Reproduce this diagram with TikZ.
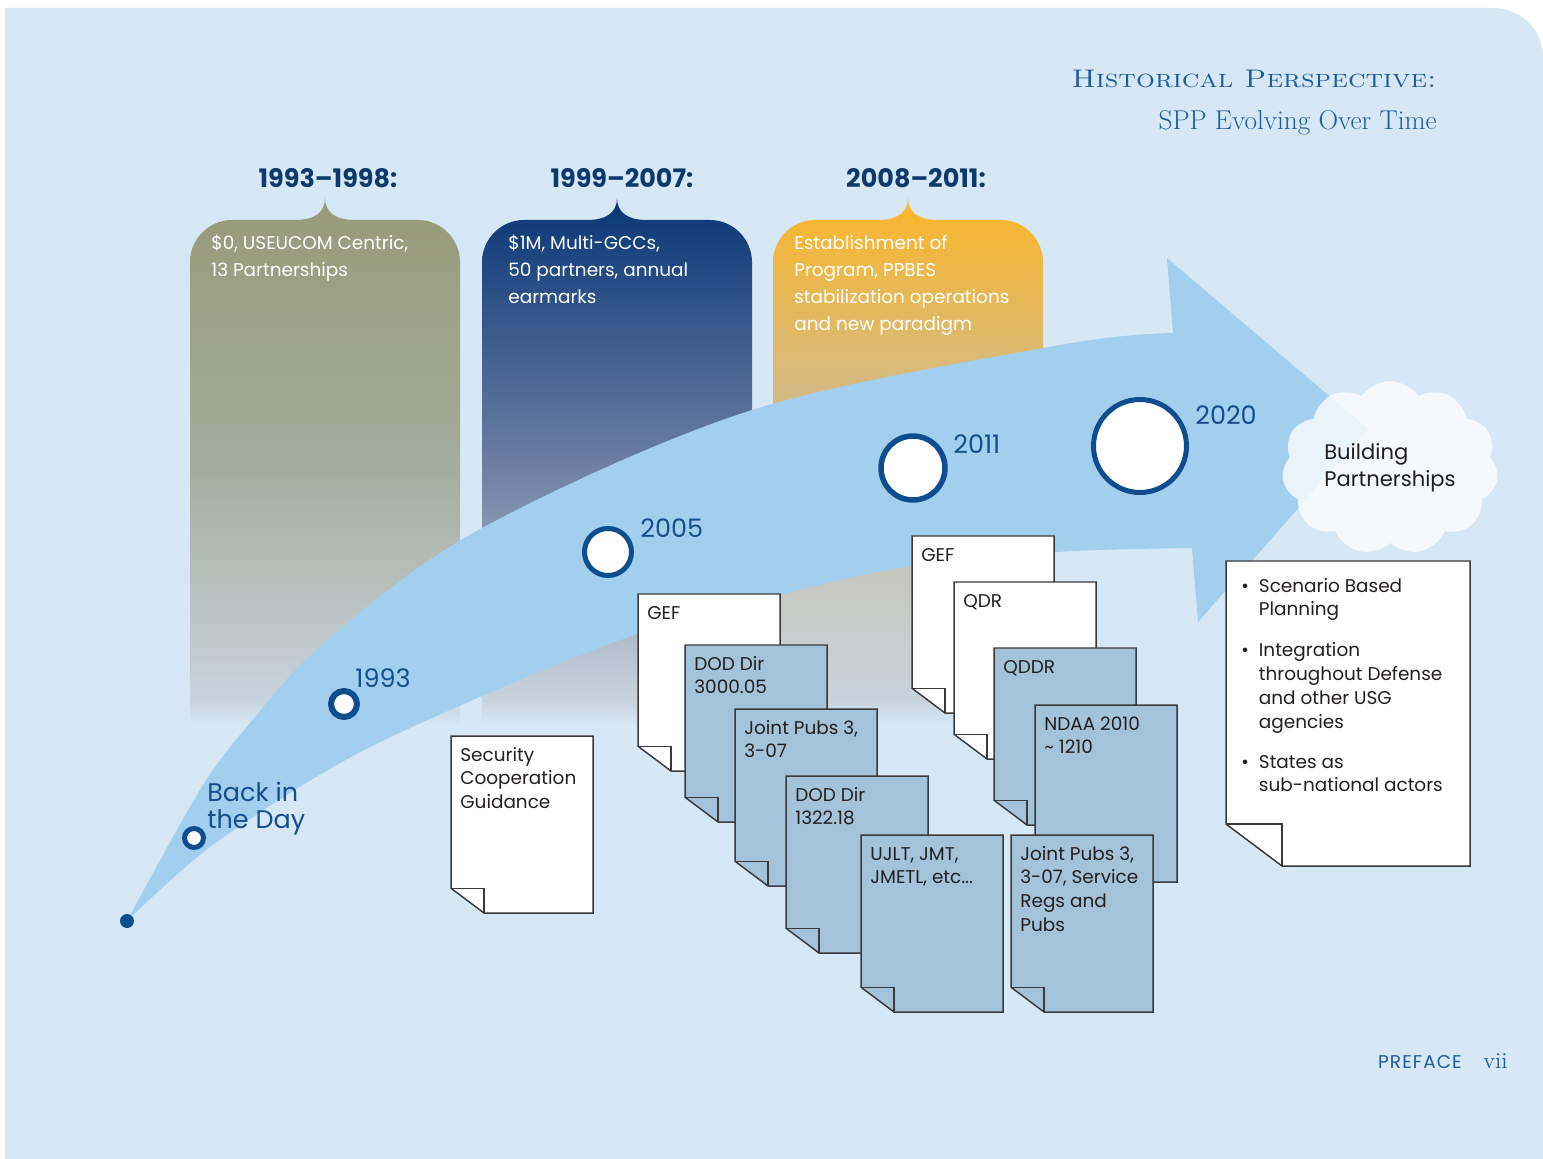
\documentclass[tikz,border=0pt]{standalone}
\usepackage{graphicx}
\usepackage{fontspec}
\setsansfont{Poppins}
\usetikzlibrary{calc}
\usetikzlibrary{positioning}
\usetikzlibrary{shapes.symbols}

\definecolor{bgblue}{HTML}{D6E8F6}
\definecolor{arrowblue}{HTML}{A3CFEE}
\definecolor{ringnavy}{HTML}{0E4D8E}
\definecolor{headnavy}{HTML}{0D3A6A}
\definecolor{yearnavy}{HTML}{144E8C}
\definecolor{docblue}{HTML}{A2C3DA}
\definecolor{docline}{HTML}{3A3A3C}
\definecolor{ink}{HTML}{231F20}
\definecolor{olive}{HTML}{979B78}
\definecolor{olivemid}{HTML}{A5AB9B}
\definecolor{deepblue}{HTML}{093676}
\definecolor{deepmid}{HTML}{6B7EA2}
\definecolor{amber}{HTML}{FBB62A}
\definecolor{ambermid}{HTML}{C6BCA2}
\definecolor{fadegray}{HTML}{C8D3DC}
\definecolor{titleblue}{HTML}{1F5C9E}

% panel fades: the path spans 25bp (bottom) to 75bp (top)
\pgfdeclareverticalshading{olivefade}{100bp}{color(0bp)=(bgblue); color(25bp)=(bgblue); color(27.5bp)=(fadegray); color(50bp)=(olivemid); color(75bp)=(olive); color(100bp)=(olive)}
\pgfdeclareverticalshading{navyfade}{100bp}{color(0bp)=(bgblue); color(25bp)=(bgblue); color(27.5bp)=(fadegray); color(50bp)=(deepmid); color(75bp)=(deepblue); color(100bp)=(deepblue)}
\pgfdeclareverticalshading{amberfade}{100bp}{color(0bp)=(bgblue); color(25bp)=(bgblue); color(27.5bp)=(fadegray); color(50bp)=(ambermid); color(75bp)=(amber); color(100bp)=(amber)}

\tikzset{
	x=0.02cm, y=-0.02cm,
	heading/.style={font=\sffamily\bfseries\fontsize{14.5}{17}\selectfont, text=headnavy, anchor=base, inner sep=0pt},
	bubbletext/.style={font=\sffamily\fontsize{10.5}{15.3}\selectfont, text=white, anchor=base west, inner sep=0pt},
	yearlabel/.style={font=\sffamily\fontsize{14.5}{15.4}\selectfont, text=yearnavy, anchor=base west, inner sep=0pt},
	ring/.style={circle, draw=ringnavy, fill=white, line width=0.1cm, inner sep=0pt, minimum size=#1},
	doctext/.style={font=\sffamily\fontsize{10.5}{13.6}\selectfont, text=ink, anchor=base west, inner sep=0pt},
	paper/.style={draw=docline, line width=0.85pt, line join=miter},
	footer/.style={inner sep=0pt, text=titleblue},
}

% lines stacked from the baseline of the first one
\newcommand{\lines}[1]{\begin{tabular}[t]{@{}l@{}}#1\end{tabular}}

% sheet with a folded lower left corner: name, x, y, width, height, fold, fill, text offset, text
\newcommand{\papersheet}[9]{%
	\draw[paper, fill=#7] (#2,#3) -- ++(#4,0) -- ++(0,#5) -- ({#2+#6},{#3+#5}) -- (#2,{#3+#5-0.75*#6}) -- cycle;
	\draw[paper] (#2,{#3+#5-0.75*#6}) -- ++(#6,0) -- ++(0,{0.75*#6});
	\node[doctext] (#1) at ($(#2,#3)+#8$) {#9};
}

% period panel with a brace tip on top: left x, shading
\newcommand{\periodpanel}[2]{%
	\path[shading=#2]
		(#1,725) -- (#1,262) .. controls (#1,239) and ({#1+19},220) .. ({#1+42},220)
		-- ({#1+105},220) .. controls ({#1+125},220) and ({#1+135},212) .. ({#1+135},198)
		.. controls ({#1+135},212) and ({#1+145},220) .. ({#1+165},220)
		-- ({#1+228},220) .. controls ({#1+251},220) and ({#1+270},239) .. ({#1+270},262)
		-- ({#1+270},725) -- cycle;
}

\begin{document}
\begin{tikzpicture}
	\useasboundingbox (0,0) rectangle (1543,1159);
	\fill[white] (0,0) rectangle (1543,1159);
	\fill[bgblue] (5,8) -- (1493,8) .. controls (1521,8) and (1543,30) .. (1543,58) -- (1543,1159) -- (5,1159) -- cycle;

	% title
	\node[footer, anchor=base east, font=\fontsize{14.5}{16}\selectfont] (title) at (1437,88) {\scalebox{1.17}[1]{\textsc{Historical Perspective:}}};
	\node[footer, anchor=base east, font=\fontsize{15.5}{17}\selectfont] (subtitle) at (1437,130) {SPP Evolving Over Time};

	% periods
	\periodpanel{190}{olivefade}
	\periodpanel{482}{navyfade}
	\periodpanel{773}{amberfade}
	\node[heading] (p1) at (328,188) {1993–1998:};
	\node[heading] (p2) at (622,188) {1999–2007:};
	\node[heading] (p3) at (916,188) {2008–2011:};
	\node[bubbletext] (t1) at (211,250) {\lines{\$0, USEUCOM Centric,\\13 Partnerships}};
	\node[bubbletext] (t2) at (508,250) {\lines{\$1M, Multi-GCCs,\\50 partners, annual\\earmarks}};
	\node[bubbletext] (t3) at (794,250) {\lines{Establishment of\\Program, PPBES\\stabilization operations\\and new paradigm}};

	% the big arrow
	\fill[arrowblue] plot[smooth, tension=0.55] coordinates {(127,921) (200,790) (250,723) (327,640) (482,528) (752,410) (1060,345) (1173,333)}
		-- (1167,258) -- (1368,429) -- (1198,622) -- (1192,548)
		-- plot[smooth, tension=0.55] coordinates {(1192,548) (1057,552) (900,568) (760,600) (620,640) (450,710) (333,767) (210,847) (127,921)} -- cycle;

	% milestones
	\node[circle, fill=ringnavy, minimum size=0.28cm, inner sep=0pt] (tail) at (127,921) {};
	\node[ring=0.38cm] (cday) at (194,838) {};
	\node[ring=0.52cm, line width=0.12cm] (c1993) at (344,704) {};
	\node[ring=0.94cm] (c2005) at (608,552) {};
	\node[ring=1.28cm, line width=0.11cm] (c2011) at (913,468) {};
	\node[ring=1.86cm] (c2020) at (1140,446) {};
	\node[yearlabel] (backday) at (207,801) {\lines{Back in\\the Day}};
	\node[yearlabel] (y1993) at (355,687) {1993};
	\node[yearlabel] (y2005) at (640,537) {2005};
	\node[yearlabel] (y2011) at (953,453) {2011};
	\node[yearlabel] (y2020) at (1195,424) {2020};

	% documents
	\papersheet{security}{451}{736}{142}{177}{33}{white}{(9,25)}{\lines{Security\\Cooperation\\Guidance}}
	\papersheet{gefA}{638}{594}{142}{177}{33}{white}{(9,25)}{GEF}
	\papersheet{dodA}{685}{645}{142}{177}{33}{docblue}{(9,25)}{\lines{DOD Dir\\3000.05}}
	\papersheet{jpA}{735}{709}{142}{177}{33}{docblue}{(9,25)}{\lines{Joint Pubs 3,\\3-07}}
	\papersheet{dodB}{786}{776}{142}{177}{33}{docblue}{(9,25)}{\lines{DOD Dir\\1322.18}}
	\papersheet{ujlt}{861}{835}{142}{177}{33}{docblue}{(9,25)}{\lines{UJLT, JMT,\\JMETL, etc...}}
	\papersheet{gefB}{912}{536}{142}{177}{33}{white}{(9,25)}{GEF}
	\papersheet{qdr}{954}{582}{142}{177}{33}{white}{(9,25)}{QDR}
	\papersheet{qddr}{994}{648}{142}{177}{33}{docblue}{(9,25)}{QDDR}
	\papersheet{ndaa}{1035}{705}{142}{177}{33}{docblue}{(9,25)}{\lines{NDAA 2010\\\textasciitilde\ 1210}}
	\papersheet{jpB}{1011}{835}{142}{177}{33}{docblue}{(9,25)}{\lines{Joint Pubs 3,\\3-07, Service\\Regs and\\Pubs}}

	% goal
	\node[cloud, cloud puffs=11, cloud puff arc=110, aspect=1.35, fill=white, fill opacity=0.78, text opacity=1,
		minimum width=3.6cm, minimum height=2.75cm, align=left, text=ink,
		font=\sffamily\fontsize{12}{15.3}\selectfont] (cloud) at (1390,468) {Building\\Partnerships};
	\papersheet{scenario}{1226}{561}{244}{305}{56}{white}{(9,31)}{%
		\begin{tabular}[t]{@{\hspace{0.12cm}}l@{\hspace{0.2cm}}l@{}}
			\textbullet & Scenario Based\\
			& Planning\\[9.6pt]
			\textbullet & Integration\\
			& throughout Defense\\
			& and other USG\\
			& agencies\\[9pt]
			\textbullet & States as\\
			& sub-national actors
		\end{tabular}}

	% folio
	\node[footer, anchor=base east, font=\sffamily\fontsize{10.5}{12}\selectfont\addfontfeature{LetterSpace=6}] (preface) at (1462,1068) {PREFACE};
	\node[footer, font=\fontsize{13}{14}\selectfont, base right=0.42cm of preface] (folio) {vii};
\end{tikzpicture}
\end{document}
